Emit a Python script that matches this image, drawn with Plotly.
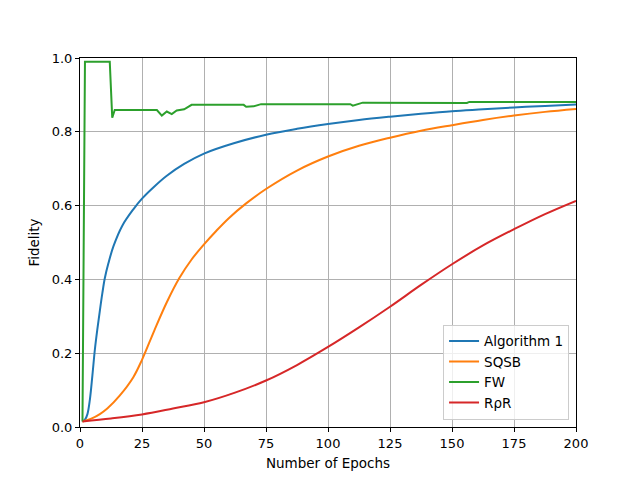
import plotly.graph_objects as go

# values
alg1_x = [1, 2, 3, 4, 5, 6, 7, 8, 9, 10, 11.5, 13.5, 17, 21.5, 25, 30, 35, 42, 50, 62, 75,
          87.5, 100, 112.5, 125, 137.5, 150, 162.5, 175, 187.5, 200]
alg1_y = [0.015, 0.02, 0.035, 0.075, 0.14, 0.21, 0.265, 0.315, 0.362, 0.403, 0.445, 0.49, 0.545,
          0.59, 0.619, 0.652, 0.681, 0.713, 0.741, 0.769, 0.792, 0.808, 0.821, 0.832, 0.841,
          0.849, 0.856, 0.861, 0.866, 0.870, 0.874]

sqsb_x = [1, 5, 8, 11, 16, 21.5, 25, 30, 35, 40, 45, 50, 55, 60, 67, 75, 87.5, 100, 112.5,
          125, 137.5, 150, 162.5, 175, 187.5, 200]
sqsb_y = [0.015, 0.024, 0.035, 0.05, 0.085, 0.135, 0.182, 0.262, 0.338, 0.403, 0.454, 0.495,
          0.532, 0.566, 0.606, 0.645, 0.695, 0.733, 0.762, 0.784, 0.803, 0.818, 0.832, 0.844,
          0.854, 0.862]

fw_x = [1, 2, 12, 13, 14, 31, 33, 35, 37, 39, 42, 45, 66, 67, 70, 73, 109, 110, 114, 155, 156, 157, 200]
fw_y = [0.015, 0.99, 0.99, 0.838, 0.859, 0.859, 0.844, 0.855, 0.848, 0.858, 0.861, 0.873, 0.873,
        0.868, 0.869, 0.875, 0.875, 0.871, 0.879, 0.879, 0.878, 0.881, 0.881]

rpr_x = [1, 12.5, 25, 37.5, 50, 62.5, 75, 87.5, 100, 112.5, 125, 137.5, 150, 162.5, 175, 187.5, 200]
rpr_y = [0.015, 0.023, 0.034, 0.05, 0.067, 0.093, 0.126, 0.168, 0.217, 0.27, 0.326, 0.385,
         0.441, 0.492, 0.536, 0.577, 0.613]

x_ticks = [0, 25, 50, 75, 100, 125, 150, 175, 200]
y_ticks = [0.0, 0.2, 0.4, 0.6, 0.8, 1.0]

font = "DejaVu Sans"

fig = go.Figure()
fig.add_trace(go.Scatter(x=alg1_x, y=alg1_y, mode="lines", name="Algorithm 1",
                         line=dict(color="#1f77b4", width=2, shape="spline", smoothing=1.0)))
fig.add_trace(go.Scatter(x=sqsb_x, y=sqsb_y, mode="lines", name="SQSB",
                         line=dict(color="#ff7f0e", width=2, shape="spline", smoothing=1.0)))
fig.add_trace(go.Scatter(x=fw_x, y=fw_y, mode="lines", name="FW",
                         line=dict(color="#2ca02c", width=2)))
fig.add_trace(go.Scatter(x=rpr_x, y=rpr_y, mode="lines", name="RρR",
                         line=dict(color="#d62728", width=2, shape="spline", smoothing=1.0)))

axis_style = dict(
    showline=True, linecolor="black", linewidth=1, mirror=True,
    ticks="outside", ticklen=4, tickcolor="black", tickwidth=1,
    showgrid=True, gridcolor="#b0b0b0", gridwidth=0.8,
    zeroline=False, tickfont=dict(family=font, size=13, color="black"),
)

fig.update_xaxes(range=[0, 200], tickvals=x_ticks, title=dict(text="Number of Epochs",
                 font=dict(family=font, size=13.5, color="black"), standoff=8), **axis_style)
fig.update_yaxes(range=[0, 1], tickvals=y_ticks, tickformat=".1f", title=dict(text="Fidelity",
                 font=dict(family=font, size=13.5, color="black"), standoff=8), **axis_style)

# page body adds an 8px offset, so margins are shifted to land the axes where they should be
fig.update_layout(
    width=640, height=480, autosize=False,
    margin=dict(l=72, r=72, t=50, b=61),
    paper_bgcolor="white", plot_bgcolor="white",
    font=dict(family=font, size=13, color="black"),
    legend=dict(x=0.986, y=0.02, xanchor="right", yanchor="bottom",
                bgcolor="rgba(255,255,255,0.8)", bordercolor="#cccccc", borderwidth=1,
                font=dict(family=font, size=13.5), tracegroupgap=0),
)

fig.write_html("out.html")
